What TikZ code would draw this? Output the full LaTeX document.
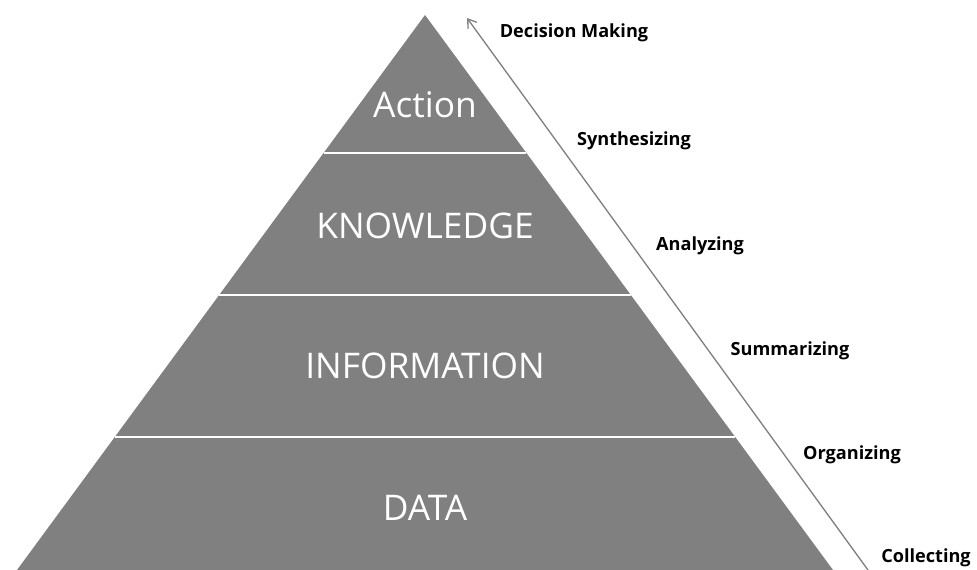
\documentclass[tikz,border=0pt]{standalone}
\usepackage{fontspec}
\setmainfont{Open Sans}
\usetikzlibrary{calc,arrows.meta}

\definecolor{pyrgray}{HTML}{808080}

\begin{document}
\begin{tikzpicture}[x=0.75pt, y=-0.75pt,
 layer/.style = {text=white, font=\fontsize{26.5}{31}\selectfont},
 step label/.style = {text=black, font=\bfseries\fontsize{13.6}{16}\selectfont},
 sep/.style = {draw=white, line width=1.6pt}]
 \useasboundingbox (0,0) rectangle (977,570);
 % pyramid corners
 \coordinate (apex) at (425,15);
 \coordinate (bl) at (17,570);
 \coordinate (br) at (833,570);
 \fill[pyrgray] (apex) -- (bl) -- (br) -- cycle;
 % white bands between the levels
 \foreach \t in {0.2486,0.5045,0.7604}
   \draw[sep] ($(apex)!\t!(bl)$) -- ($(apex)!\t!(br)$);
 \node[layer] (action) at (425,105) {Action};
 \node[layer] (knowledge) at (425,226) {KNOWLEDGE};
 \node[layer] (information) at (425,366) {INFORMATION};
 \node[layer] (data) at (425,508) {DATA};
 % process arrow up the right side
 \coordinate (arrbot) at (868,570);
 \coordinate (arrtop) at (467,18);
 \draw[pyrgray, line width=1pt, -{Straight Barb[length=6pt,width=8pt]}] (arrbot) -- (arrtop);
 \node[step label] (decision) at (574,33) {Decision Making};
 \node[step label] (synth) at (634,141) {Synthesizing};
 \node[step label] (analyz) at (700,246) {Analyzing};
 \node[step label] (summar) at (790,351) {Summarizing};
 \node[step label] (organiz) at (852,455) {Organizing};
 \node[step label] (collect) at (926,558) {Collecting};
\end{tikzpicture}
\end{document}
